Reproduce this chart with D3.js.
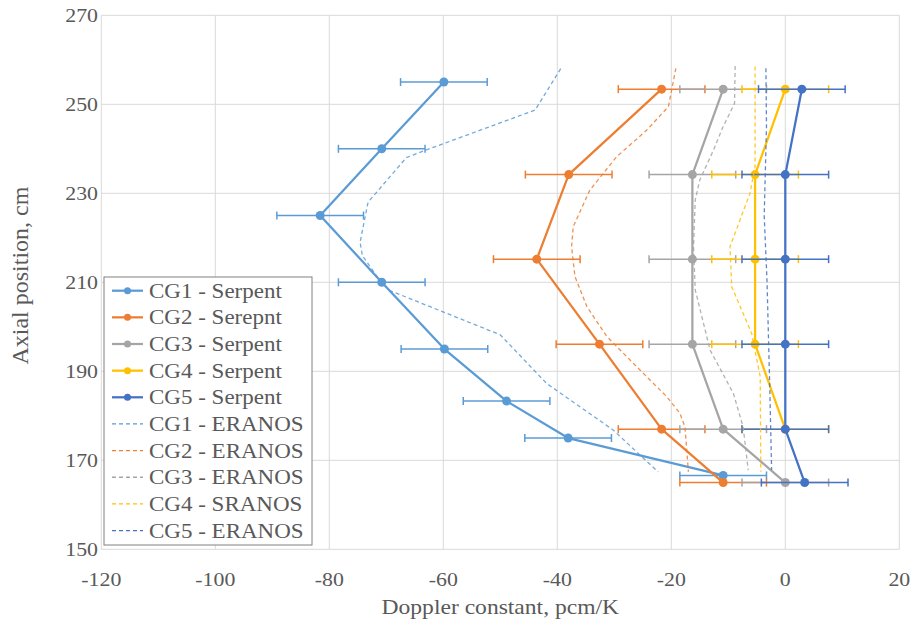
<!DOCTYPE html>
<html><head><meta charset="utf-8">
<script src="https://cdn.jsdelivr.net/npm/d3@7"></script>
<style>body{margin:0;background:#fff;}</style>
</head>
<body><svg id="c" width="915" height="625"></svg>
<script>
// ---- data ----
const xTicks = [-120,-100,-80,-60,-40,-20,0,20];
const yTicks = [150,170,190,210,230,250,270];

const cg1SerpentY = [255, 240, 225, 210, 195, 183.3, 175, 166.6];
const cg1SerpentX = [-59.9, -70.8, -81.6, -70.8, -59.8, -48.9, -38.1, -10.9];
const cg1Err      = [7.6, 7.6, 7.6, 7.6, 7.6, 7.6, 7.6, 7.6];

const serpentY    = [253.4, 234.2, 215.2, 196.1, 177, 165];
const cg2SerpentX = [-21.7, -38.0, -43.6, -32.6, -21.7, -10.9];
const cg3SerpentX = [-10.9, -16.3, -16.3, -16.3, -10.9, 0];
const cg4SerpentX = [0, -5.3, -5.3, -5.3, 0];
const cg5SerpentX = [2.9, 0, 0, 0, 0, 3.4];
const serpentErr  = [7.6, 7.6, 7.6, 7.6, 7.6, 7.6];

const cg1EranosX = [-39.4, -43.9, -63.5, -66.5, -73.2, -74.6, -74.2, -71.2, -69.5, -50.0, -41.9, -30.2, -22.3];
const cg1EranosY = [258, 248.7, 239.5, 238, 228, 219, 216, 210.5, 208.2, 198.2, 187.3, 176.8, 167.4];
const cg2EranosX = [-19.2, -20.5, -24.3, -29.6, -34.3, -37.2, -37.5, -36.9, -34.8, -31.3, -25.5, -20.8, -18.5, -17.6, -17.0];
const cg2EranosY = [258.1, 249.5, 244.2, 238.2, 230.7, 222.5, 218, 211.3, 204.5, 197.8, 190.3, 184.3, 180.6, 177.5, 167.4];
const cg3EranosX = [-8.8, -8.9, -10.9, -12.6, -15.0, -15.8, -16.1, -15.8, -13.2, -9.1, -7.4, -6.5];
const cg3EranosY = [258.6, 250.2, 245, 239.7, 233, 228.5, 218, 208.3, 194.8, 185, 177.5, 167.8];
const cg4EranosX = [-5.3, -5.3, -6.2, -9.7, -9.4, -5.9, -4.4, -4.3];
const cg4EranosY = [258.5, 236, 230, 218, 209, 198.5, 188.8, 167.4];
const cg5EranosX = [-3.4, -3.3, -3.7, -3.2, -3.0, -2.7, -2.4];
const cg5EranosY = [258.1, 245, 225, 210, 200, 185, 167.8];

const legendLabels = ["CG1 - Serpent","CG2 - Serepnt","CG3 - Serpent","CG4 - Serpent","CG5 - Serpent",
                      "CG1 - ERANOS","CG2 - ERANOS","CG3 - ERANOS","CG4 - SRANOS","CG5 - ERANOS"];
const colors = ["#5B9BD5","#ED7D31","#A5A5A5","#FFC000","#4472C4"];

// ---- layout ----
const FONT = '"Liberation Serif"';
const svg = d3.select("#c");
const x = d3.scaleLinear().domain([-120,20]).range([101.3,899.3]);
const y = d3.scaleLinear().domain([150,270]).range([549.3,15.3]);
const TX = 1.15; // horizontal text stretch

// gridlines
svg.append("g").selectAll("line").data(xTicks).join("line")
  .attr("x1",d=>x(d)).attr("x2",d=>x(d)).attr("y1",y(150)).attr("y2",y(270))
  .attr("stroke","#d9d9d9").attr("stroke-width",1);
svg.append("g").selectAll("line").data(yTicks).join("line")
  .attr("y1",d=>y(d)).attr("y2",d=>y(d)).attr("x1",x(-120)).attr("x2",x(20))
  .attr("stroke","#d9d9d9").attr("stroke-width",1);

// tick labels
svg.append("g").selectAll("text").data(xTicks).join("text")
  .attr("transform",d=>`translate(${x(d)},586) scale(${TX},1)`).attr("font-family",FONT)
  .attr("text-anchor","middle").attr("font-size",19).attr("fill","#595959").text(d=>d);
svg.append("g").selectAll("text").data(yTicks).join("text")
  .attr("transform",d=>`translate(98,${y(d)+6.5}) scale(${TX},1)`).attr("font-family",FONT)
  .attr("text-anchor","end").attr("font-size",19).attr("fill","#595959").text(d=>d);

// axis titles
svg.append("text").attr("transform",`translate(${x(-50)},614) scale(${TX},1)`).attr("font-family",FONT)
  .attr("text-anchor","middle").attr("font-size",20.5).attr("fill","#595959").text("Doppler constant, pcm/K");
svg.append("text").attr("transform",`translate(28,${y(211.5)}) rotate(-90)`).attr("font-family",FONT)
  .attr("text-anchor","middle").attr("font-size",24).attr("fill","#595959").text("Axial position, cm");

const line = d3.line().x(d=>x(d[0])).y(d=>y(d[1]));
const zip = (a,b)=>a.map((v,i)=>[v,b[i]]);

const eranos = [zip(cg1EranosX,cg1EranosY),zip(cg2EranosX,cg2EranosY),zip(cg3EranosX,cg3EranosY),zip(cg4EranosX,cg4EranosY),zip(cg5EranosX,cg5EranosY)];

const serpent = [
  {pts:zip(cg1SerpentX,cg1SerpentY), err:cg1Err},
  {pts:zip(cg2SerpentX,serpentY), err:serpentErr},
  {pts:zip(cg3SerpentX,serpentY), err:serpentErr},
  {pts:zip(cg4SerpentX,serpentY.slice(0,cg4SerpentX.length)), err:serpentErr},
  {pts:zip(cg5SerpentX,serpentY), err:serpentErr}
];

serpent.forEach((s,i)=>{
  const g = svg.append("g");
  s.pts.forEach((p,j)=>{
    const e = s.err[j];
    g.append("line").attr("x1",x(p[0]-e)).attr("x2",x(p[0]+e)).attr("y1",y(p[1])).attr("y2",y(p[1]))
      .attr("stroke",colors[i]).attr("stroke-width",1.5);
    [p[0]-e,p[0]+e].forEach(v=>{
      g.append("line").attr("x1",x(v)).attr("x2",x(v)).attr("y1",y(p[1])-4).attr("y2",y(p[1])+4)
        .attr("stroke",colors[i]).attr("stroke-width",1.5);
    });
  });
  g.append("path").attr("d",line(s.pts)).attr("fill","none").attr("stroke",colors[i]).attr("stroke-width",2.25)
    .attr("stroke-linejoin","round");
  g.selectAll("circle").data(s.pts).join("circle").attr("cx",d=>x(d[0])).attr("cy",d=>y(d[1])).attr("r",4.5)
    .attr("fill",colors[i]);
});

eranos.forEach((pts,i)=>{
  svg.append("path").attr("d",line(pts)).attr("fill","none").attr("stroke",colors[i]).attr("stroke-width",1.3)
    .attr("stroke-dasharray","4,3").attr("opacity",0.85);
});

// legend
const lg = svg.append("g");
lg.append("rect").attr("x",104).attr("y",277).attr("width",208).attr("height",268)
  .attr("fill","#fff").attr("stroke","#808080").attr("stroke-width",1);
legendLabels.forEach((lab,i)=>{
  const cy = 290.7 + i*26.65;
  const c = colors[i%5];
  if(i<5){
    lg.append("line").attr("x1",112).attr("x2",143).attr("y1",cy).attr("y2",cy).attr("stroke",c).attr("stroke-width",2.25);
    lg.append("circle").attr("cx",127.5).attr("cy",cy).attr("r",3.5).attr("fill",c);
  } else {
    lg.append("line").attr("x1",112).attr("x2",143).attr("y1",cy).attr("y2",cy).attr("stroke",c).attr("stroke-width",1.3)
      .attr("stroke-dasharray","4,3");
  }
  lg.append("text").attr("transform",`translate(149,${cy+7}) scale(${TX},1)`).attr("font-family",FONT).attr("font-size",20)
    .attr("fill","#595959").text(lab);
});
</script></body></html>
